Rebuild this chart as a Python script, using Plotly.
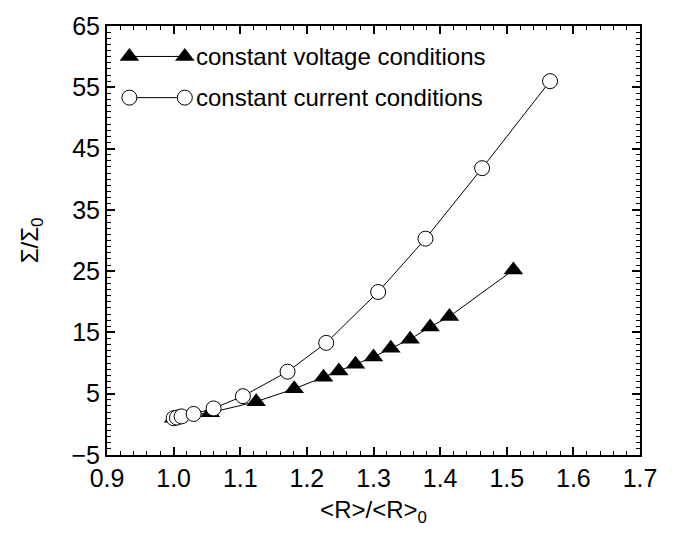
import plotly.graph_objects as go

# Normalised radius <R>/<R>0 and normalised conductance Σ/Σ0
volt_x = [1.000, 1.006, 1.055, 1.124, 1.181, 1.225, 1.248, 1.273, 1.300, 1.326, 1.355, 1.385, 1.414, 1.510]
volt_y = [1.0, 1.1, 1.9, 3.7, 5.8, 7.7, 8.7, 9.8, 11.0, 12.4, 13.9, 15.9, 17.6, 25.2]

curr_x = [1.000, 1.005, 1.012, 1.030, 1.060, 1.104, 1.171, 1.229, 1.307, 1.378, 1.463, 1.565]
curr_y = [1.0, 1.1, 1.3, 1.7, 2.6, 4.6, 8.6, 13.3, 21.6, 30.3, 41.8, 56.0]

x_ticks = [0.9, 1.0, 1.1, 1.2, 1.3, 1.4, 1.5, 1.6, 1.7]
x_labels = ["0.9", "1.0", "1.1", "1.2", "1.3", "1.4", "1.5", "1.6", "1.7"]
y_ticks = [-5, 5, 15, 25, 35, 45, 55, 65]
y_labels = ["\u22125", "5", "15", "25", "35", "45", "55", "65"]

legend_names = ["constant voltage conditions", "constant current conditions"]

FONT = "Liberation Sans, Arial, Helvetica, sans-serif"

tri = dict(symbol="triangle-up", size=17, color="black", line=dict(color="black", width=0))
circ = dict(symbol="circle", size=15, color="white", line=dict(color="black", width=1))

fig = go.Figure()
fig.add_trace(go.Scatter(x=volt_x, y=volt_y, mode="lines+markers",
                         line=dict(color="black", width=1), marker=tri, showlegend=False))
fig.add_trace(go.Scatter(x=curr_x, y=curr_y, mode="lines+markers",
                         line=dict(color="black", width=1), marker=circ, showlegend=False))

# Legend samples: marker at both ends of a short line, on a fixed 0..1 overlay axis
leg_x = [0.042, 0.146]
leg_rows = [0.929, 0.833]
for i, (row, mk) in enumerate(zip(leg_rows, [tri, circ])):
    fig.add_trace(go.Scatter(x=leg_x, y=[row, row], mode="lines+markers",
                             line=dict(color="black", width=1), marker=mk,
                             xaxis="x2", yaxis="y2", showlegend=False, hoverinfo="skip"))
    fig.add_annotation(x=0.163, y=row, xref="x2", yref="y2", text=legend_names[i],
                       showarrow=False, xanchor="left", yanchor="middle",
                       font=dict(family=FONT, size=24, color="black"))

axis_common = dict(showgrid=False, zeroline=False, showline=True, linecolor="black",
                   linewidth=2, mirror="ticks", ticks="inside", tickcolor="black",
                   ticklen=8, tickwidth=1.5, ticklabeloverflow="allow",
                   tickfont=dict(family=FONT, size=25, color="black"))

fig.update_layout(
    width=680, height=537,
    margin=dict(l=107, r=40, t=14, b=82),
    paper_bgcolor="white", plot_bgcolor="white",
    xaxis=dict(range=[0.9, 1.7], tickvals=x_ticks, ticktext=x_labels,
               title=dict(text="<R>/<R><sub>0</sub>", font=dict(family=FONT, size=24, color="black"),
                          standoff=10),
               minor=dict(dtick=0.02, ticks="inside", ticklen=4, tickcolor="black", tickwidth=1),
               **axis_common),
    yaxis=dict(range=[-5, 65], tickvals=y_ticks, ticktext=y_labels,
               title=dict(text="\u03a3/\u03a3<sub>0</sub>", font=dict(family=FONT, size=24, color="black"),
                          standoff=26),
               minor=dict(dtick=1, ticks="inside", ticklen=4, tickcolor="black", tickwidth=1),
               **axis_common),
    xaxis2=dict(range=[0, 1], overlaying="x", visible=False, fixedrange=True),
    yaxis2=dict(range=[0, 1], overlaying="y", visible=False, fixedrange=True),
)

fig.write_html("out.html")
